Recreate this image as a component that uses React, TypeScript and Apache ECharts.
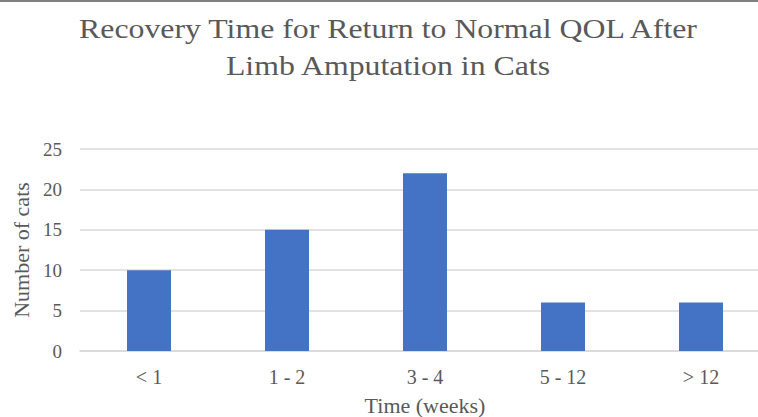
import React, { useEffect, useRef } from "react";
import * as echarts from "echarts";

const categories = ["< 1", "1 - 2", "3 - 4", "5 - 12", "> 12"];
const values = [10, 15, 22, 6, 6];
const titleText = "Recovery Time for Return to Normal QOL After\nLimb Amputation in Cats";
const xName = "Time (weeks)";
const yName = "Number of cats";

const FONT = "Liberation Serif";

export default function App() {
  const ref = useRef<HTMLDivElement>(null);
  useEffect(() => {
    if (!ref.current) return;
    const chart = echarts.init(ref.current, undefined, { renderer: "svg" });
    chart.setOption({
      animation: false,
      backgroundColor: "#ffffff",
      textStyle: { fontFamily: FONT },
      graphic: [
        { type: "rect", left: 0, top: 0, shape: { width: 758, height: 2 }, style: { fill: "#808080" } },
        {
          type: "text",
          x: 388,
          y: 10,
          scaleX: 1.2,
          style: {
            text: titleText,
            fontFamily: FONT,
            fontSize: 26.5,
            lineHeight: 37.5,
            fill: "#595959",
            align: "center",
            verticalAlign: "top",
          },
        },
      ],
      grid: { left: 80, top: 149, width: 690, height: 202, containLabel: false },
      xAxis: {
        type: "category",
        data: categories,
        name: xName,
        nameLocation: "middle",
        nameGap: 43,
        nameTextStyle: { fontFamily: FONT, fontSize: 22, color: "#595959" },
        axisLine: { lineStyle: { color: "#d9d9d9", width: 1.5 } },
        axisTick: { show: false },
        axisLabel: { fontFamily: FONT, fontSize: 20, color: "#595959", margin: 16 },
      },
      yAxis: {
        type: "value",
        min: 0,
        max: 25,
        interval: 5,
        name: yName,
        nameLocation: "middle",
        nameGap: 45,
        nameTextStyle: { fontFamily: FONT, fontSize: 22, color: "#595959" },
        axisLine: { show: false },
        axisTick: { show: false },
        axisLabel: { fontFamily: FONT, fontSize: 19, color: "#595959", margin: 18 },
        splitLine: { lineStyle: { color: "#d9d9d9", width: 1.5 } },
      },
      series: [
        {
          type: "bar",
          data: values,
          barWidth: 44,
          itemStyle: { color: "#4472C4" },
        },
      ],
    });
    return () => chart.dispose();
  }, []);
  return (
    <div style={{ position: "absolute", left: 0, top: 0, width: 758, height: 417, overflow: "hidden" }}>
      <div ref={ref} style={{ width: 772, height: 417 }} />
    </div>
  );
}
